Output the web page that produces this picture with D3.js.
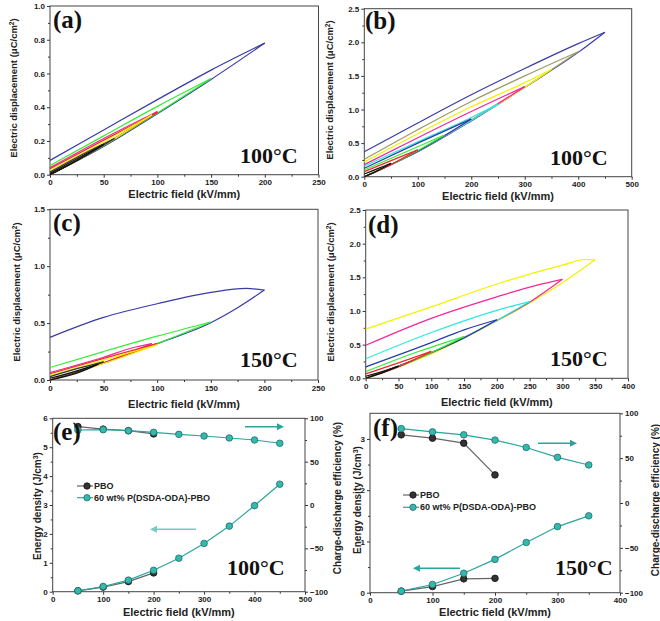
<!DOCTYPE html>
<html><head><meta charset="utf-8">
<script src="https://cdn.jsdelivr.net/npm/d3@7"></script>
<style>body{margin:0;background:#fff}svg{display:block}</style>
</head><body><svg id="c" width="660" height="621"></svg>
<script>
// ---------------- DATA ----------------
// P-E loops: each loop = charge branch + discharge branch, [E (kV/mm), D (uC/cm2)]
const loopsA = [
  {charge:[[0,0],[50,0.168],[100,0.362],[150,0.565],[200,0.78]], discharge:[[0,0.085],[50,0.265],[100,0.445],[150,0.62],[200,0.78]]},
  {charge:[[0,0],[50,0.172],[100,0.366],[150,0.57]], discharge:[[0,0.055],[50,0.23],[100,0.405],[150,0.57]]},
  {charge:[[0,0],[50,0.176],[100,0.375]], discharge:[[0,0.042],[50,0.215],[100,0.375]]},
  {charge:[[0,0],[50,0.176],[100,0.37]], discharge:[[0,0.035],[50,0.205],[100,0.37]]},
  {charge:[[0,0],[50,0.174],[95,0.355]], discharge:[[0,0.025],[50,0.195],[95,0.355]]},
  {charge:[[0,0],[30,0.1],[60,0.215]], discharge:[[0,0.016],[30,0.12],[60,0.215]]},
  {charge:[[0,0],[25,0.085],[50,0.18]], discharge:[[0,0.008],[25,0.095],[50,0.18]]}
];
const loopsB = [
  {charge:[[0,0],[100,0.37],[200,0.83],[300,1.33],[400,1.85],[450,2.15]], discharge:[[0,0.37],[100,0.8],[200,1.22],[300,1.61],[400,1.98],[450,2.15]]},
  {charge:[[0,0],[100,0.38],[200,0.84],[300,1.33],[400,1.86]], discharge:[[0,0.26],[100,0.7],[200,1.12],[300,1.5],[400,1.86]]},
  {charge:[[0,0],[100,0.38],[200,0.84],[300,1.33],[350,1.6]], discharge:[[0,0.22],[100,0.64],[200,1.04],[300,1.4],[350,1.6]]},
  {charge:[[0,0],[100,0.38],[200,0.84],[300,1.34]], discharge:[[0,0.18],[100,0.58],[200,0.97],[300,1.34]]},
  {charge:[[0,0],[100,0.38],[200,0.84],[250,1.08]], discharge:[[0,0.16],[100,0.52],[200,0.88],[250,1.08]]},
  {charge:[[0,0],[100,0.38],[200,0.86]], discharge:[[0,0.125],[100,0.5],[200,0.86]]},
  {charge:[[0,0],[75,0.28],[150,0.62]], discharge:[[0,0.1],[75,0.36],[150,0.62]]},
  {charge:[[0,0],[50,0.18],[100,0.4]], discharge:[[0,0.075],[50,0.24],[100,0.4]]},
  {charge:[[0,0],[25,0.09],[50,0.2]], discharge:[[0,0.04],[25,0.12],[50,0.2]]}
];
const loopsC = [
  {charge:[[0,0],[50,0.147],[100,0.32],[150,0.503],[175,0.635],[200,0.79]], discharge:[[0,0.375],[50,0.55],[100,0.67],[150,0.77],[183,0.805],[200,0.79]]},
  {charge:[[0,0],[50,0.15],[100,0.32],[150,0.51]], discharge:[[0,0.11],[50,0.25],[100,0.385],[150,0.51]]},
  {charge:[[0,0],[50,0.15],[95,0.32]], discharge:[[0,0.065],[50,0.2],[80,0.29],[95,0.32]]},
  {charge:[[0,0],[50,0.15],[100,0.32]], discharge:[[0,0.055],[50,0.19],[100,0.32]]},
  {charge:[[0,0],[50,0.145],[100,0.31]], discharge:[[0,0.04],[50,0.175],[100,0.31]]},
  {charge:[[0,0],[25,0.07],[50,0.16]], discharge:[[0,0.03],[25,0.1],[50,0.16]]},
  {charge:[[0,0],[25,0.06],[45,0.14]], discharge:[[0,0.015],[25,0.08],[45,0.14]]}
];
const loopsD = [
  {charge:[[0,0],[100,0.36],[200,0.85],[250,1.12],[300,1.42],[350,1.76]], discharge:[[0,0.73],[100,1.06],[200,1.4],[300,1.68],[335,1.765],[350,1.76]]},
  {charge:[[0,0],[100,0.38],[200,0.86],[250,1.13],[300,1.47]], discharge:[[0,0.49],[100,0.89],[200,1.21],[260,1.38],[300,1.47]]},
  {charge:[[0,0],[100,0.38],[200,0.86],[250,1.14]], discharge:[[0,0.29],[100,0.68],[200,1.01],[250,1.14]]},
  {charge:[[0,0],[100,0.38],[150,0.6],[200,0.87]], discharge:[[0,0.17],[100,0.53],[150,0.72],[200,0.87]]},
  {charge:[[0,0],[75,0.27],[150,0.62]], discharge:[[0,0.1],[75,0.38],[150,0.62]]},
  {charge:[[0,0],[50,0.17],[100,0.4]], discharge:[[0,0.065],[50,0.23],[100,0.4]]},
  {charge:[[0,0],[25,0.08],[50,0.18]], discharge:[[0,0.03],[25,0.1],[50,0.18]]}
];

// Energy density / efficiency panels
const fieldE_PBO   = [50,100,150,200];
const fieldE_Comp  = [50,100,150,200,250,300,350,400,450];
const energyE_PBO  = [0.03,0.16,0.35,0.65];
const energyE_Comp = [0.03,0.18,0.40,0.74,1.16,1.67,2.27,2.98,3.72];
const effE_PBO     = [90.5,87.5,85.7,82];
const effE_Comp    = [86.5,86.9,85.7,83.8,81.5,79.6,77.3,75,71.2];

const fieldF_PBO   = [50,100,150,200];
const fieldF_Comp  = [50,100,150,200,250,300,350];
const energyF_PBO  = [0.03,0.12,0.27,0.28];
const energyF_Comp = [0.03,0.16,0.38,0.65,0.98,1.29,1.50];
const effF_PBO     = [76,72.3,66.7,31.3];
const effF_Comp    = [82.9,79.3,76,70.1,61.9,50.9,42.4];

const seriesNames = ["PBO","60 wt% P(DSDA-ODA)-PBO"];
const panelLetters = ["(a)","(b)","(c)","(d)","(e)","(f)"];
const tempLabels = ["100°C","100°C","150°C","150°C","100°C","150°C"];

// ---------------- STYLE ----------------
const C = {blue:"#3a3aa6", green:"#33ee33", magenta:"#f0289a", red:"#ee2a2a", yellow:"#f2f200",
           olive:"#9a9a6a", black:"#111", dark:"#333", cyan:"#2ce8df", navy:"#2a3aa8"};
const colorsA = [C.blue,C.green,C.magenta,C.red,C.yellow,C.dark,C.black];
const colorsB = [C.blue,C.olive,C.yellow,C.magenta,C.cyan,C.navy,C.green,C.red,C.black];
const colorsC = [C.blue,C.green,C.magenta,C.red,C.yellow,C.dark,C.black];
const colorsD = [C.yellow,C.magenta,C.cyan,C.navy,C.green,C.red,C.black];
const teal = "#2aa59b", tealDark = "#1f6f69";
const SANS = "'Liberation Sans', Arial, sans-serif";
const SERIF = "'Liberation Serif', 'Times New Roman', serif";

const svg = d3.select("#c");

function frame(cfg){
  const g = svg.append("g");
  const x = d3.scaleLinear().domain(cfg.xDomain).range([cfg.left, cfg.right]);
  const y = d3.scaleLinear().domain(cfg.yDomain).range([cfg.bottom, cfg.top]);
  const styleAxis = sel => {
    sel.select(".domain").remove();
    sel.selectAll("line").attr("stroke","#333");
    sel.selectAll("text").attr("font-family",SANS).attr("font-weight","bold").attr("font-size",8).attr("fill","#222");
  };
  // minor ticks
  g.append("g").attr("transform",`translate(0,${cfg.bottom})`)
    .call(d3.axisBottom(x).tickValues(cfg.xMinor).tickSize(2).tickFormat("")).call(styleAxis);
  g.append("g").attr("transform",`translate(${cfg.left},0)`)
    .call(d3.axisLeft(y).tickValues(cfg.yMinor).tickSize(2).tickFormat("")).call(styleAxis);
  g.append("g").attr("transform",`translate(0,${cfg.bottom})`)
    .call(d3.axisBottom(x).tickValues(cfg.xTicks).tickSize(3).tickPadding(2).tickFormat(d3.format("d"))).call(styleAxis);
  g.append("g").attr("transform",`translate(${cfg.left},0)`)
    .call(d3.axisLeft(y).tickValues(cfg.yTicks).tickSize(3).tickPadding(2).tickFormat(d3.format(cfg.yFmt))).call(styleAxis);
  let y2 = null;
  if (cfg.y2Domain){
    y2 = d3.scaleLinear().domain(cfg.y2Domain).range([cfg.bottom, cfg.top]);
    g.append("g").attr("transform",`translate(${cfg.right},0)`)
      .call(d3.axisRight(y2).tickValues(cfg.y2Minor).tickSize(2).tickFormat("")).call(styleAxis);
    g.append("g").attr("transform",`translate(${cfg.right},0)`)
      .call(d3.axisRight(y2).tickValues(cfg.y2Ticks).tickSize(3).tickPadding(2).tickFormat(d3.format("d"))).call(styleAxis);
  }
  g.append("rect").attr("x",cfg.left).attr("y",cfg.top)
    .attr("width",cfg.right-cfg.left).attr("height",cfg.bottom-cfg.top)
    .attr("fill","none").attr("stroke","#444").attr("stroke-width",1);
  // x title
  g.append("text").attr("x",(cfg.left+cfg.right)/2).attr("y",cfg.bottom+cfg.xTitleDy)
    .attr("text-anchor","middle").attr("font-family",SANS).attr("font-weight","bold").attr("font-size",11).attr("fill","#222")
    .text("Electric field (kV/mm)");
  return {g,x,y,y2};
}

function yTitle(xc, yc, parts){
  const t = svg.append("text").attr("transform",`translate(${xc},${yc}) rotate(-90)`)
    .attr("text-anchor","middle").attr("dy","0.35em").attr("font-family",SANS).attr("font-weight","bold")
    .attr("font-size",9.5).attr("fill","#222");
  t.append("tspan").text(parts[0]);
  t.append("tspan").attr("font-size",6.5).attr("baseline-shift","super").text(parts[1]);
  t.append("tspan").text(parts[2]);
}

function letters(i, x, y, tx, ty){
  svg.append("text").attr("x",x).attr("y",y).attr("font-family",SERIF).attr("font-weight","bold")
    .attr("font-size",25).attr("fill","#111").text(panelLetters[i]);
  svg.append("text").attr("x",tx).attr("y",ty).attr("font-family",SERIF).attr("font-weight","bold")
    .attr("font-size",22).attr("fill","#111").text(tempLabels[i]);
}

function drawLoops(ax, loops, colors){
  const line = d3.line().x(d=>ax.x(d[0])).y(d=>ax.y(d[1])).curve(d3.curveMonotoneX);
  loops.forEach((l,i)=>{
    [l.charge, l.discharge].forEach(br=>{
      ax.g.append("path").attr("d",line(br)).attr("fill","none")
        .attr("stroke",colors[i]).attr("stroke-width",1.2);
    });
  });
}

// ---------------- PANELS a-d ----------------
const dispParts = ["Electric displacement (\u03bcC/cm","2",")"];
const axA = frame({left:50,right:318.5,top:6,bottom:174.7,xDomain:[0,250],yDomain:[0,1.0],
  xTicks:d3.range(0,251,50),xMinor:d3.range(25,250,50),yTicks:d3.range(0,1.01,0.2),yMinor:d3.range(0.1,1,0.2),yFmt:".1f",xTitleDy:23});
drawLoops(axA, loopsA, colorsA);
yTitle(13.5,88,dispParts);
letters(0,53,28,240,163);

const axB = frame({left:364.3,right:631.7,top:8.7,bottom:176.7,xDomain:[0,500],yDomain:[0,2.5],
  xTicks:d3.range(0,501,100),xMinor:d3.range(50,500,100),yTicks:d3.range(0,2.51,0.5),yMinor:d3.range(0.25,2.5,0.5),yFmt:".1f",xTitleDy:23});
drawLoops(axB, loopsB, colorsB);
yTitle(330,90,dispParts);
letters(1,365,29,550,165);

const axC = frame({left:50,right:318,top:209.3,bottom:380,xDomain:[0,250],yDomain:[0,1.5],
  xTicks:d3.range(0,251,50),xMinor:d3.range(25,250,50),yTicks:[0,0.5,1.0,1.5],yMinor:[0.25,0.75,1.25],yFmt:".1f",xTitleDy:28});
drawLoops(axC, loopsC, colorsC);
yTitle(17,292,dispParts);
letters(2,53,231,240,367);

const axD = frame({left:365.7,right:628,top:210,bottom:378.3,xDomain:[0,400],yDomain:[0,2.5],
  xTicks:d3.range(0,401,50),xMinor:d3.range(25,400,50),yTicks:d3.range(0,2.51,0.5),yMinor:d3.range(0.25,2.5,0.5),yFmt:".1f",xTitleDy:28});
drawLoops(axD, loopsD, colorsD);
yTitle(331,292,dispParts);
letters(3,368,233,550,366);

// ---------------- PANELS e-f ----------------
function drawSeries(ax, xs, ys, yscale, color, fill, stroke){
  const pts = xs.map((v,i)=>[v,ys[i]]);
  const line = d3.line().x(d=>ax.x(d[0])).y(d=>yscale(d[1]));
  ax.g.append("path").attr("d",line(pts)).attr("fill","none").attr("stroke",color).attr("stroke-width",1.2);
  ax.g.selectAll(null).data(pts).enter().append("circle")
    .attr("cx",d=>ax.x(d[0])).attr("cy",d=>yscale(d[1])).attr("r",3.3)
    .attr("fill",fill).attr("stroke",stroke).attr("stroke-width",0.8);
}
function arrow(x1,y1,x2,y2,color){
  const g = svg.append("g");
  g.append("line").attr("x1",x1).attr("y1",y1).attr("x2",x2-(x2>x1?5:-5)).attr("y2",y2)
    .attr("stroke",color).attr("stroke-width",1.5);
  const d = x2>x1 ? 1 : -1;
  g.append("path").attr("d",`M${x2},${y2} L${x2-7*d},${y2-3.5} L${x2-7*d},${y2+3.5} Z`).attr("fill",color);
}
function legend(x, y, dy, tx){
  const rows = [{c:"#666",f:"#333",s:"#111"},{c:teal,f:"#35b8ad",s:tealDark}];
  rows.forEach((r,i)=>{
    const yy = y + i*dy;
    svg.append("line").attr("x1",x).attr("x2",x+16).attr("y1",yy).attr("y2",yy).attr("stroke",r.c).attr("stroke-width",1.2);
    svg.append("circle").attr("cx",x+10).attr("cy",yy).attr("r",3.2).attr("fill",r.f).attr("stroke",r.s).attr("stroke-width",0.8);
    svg.append("text").attr("x",tx).attr("y",yy).attr("dy","0.35em").attr("font-family",SANS).attr("font-weight","bold")
      .attr("font-size",9).attr("fill","#222").text(seriesNames[i]);
  });
}

const axE = frame({left:52.7,right:305,top:418.3,bottom:591.7,xDomain:[0,500],yDomain:[0,6],
  xTicks:d3.range(0,501,100),xMinor:d3.range(50,500,100),yTicks:d3.range(0,7,1),yMinor:d3.range(0.5,6,1),yFmt:"d",
  y2Domain:[-100,100],y2Ticks:d3.range(-100,101,50),y2Minor:d3.range(-75,100,50),xTitleDy:24});
drawSeries(axE, fieldE_PBO, energyE_PBO, axE.y, "#666", "#333", "#111");
drawSeries(axE, fieldE_Comp, energyE_Comp, axE.y, teal, "#35b8ad", tealDark);
drawSeries(axE, fieldE_PBO, effE_PBO, axE.y2, "#666", "#333", "#111");
drawSeries(axE, fieldE_Comp, effE_Comp, axE.y2, teal, "#35b8ad", tealDark);
legend(77,486,11.7,94);
arrow(245,426.7,284,426.7,teal);
arrow(196,529.3,150,529.3,"#7cc7c0");
svg.append("text").attr("transform","translate(37,506) rotate(-90)").attr("text-anchor","middle").attr("dy","0.35em")
  .attr("font-family",SANS).attr("font-weight","bold").attr("font-size",10).attr("fill","#222")
  .call(t=>{t.append("tspan").text("Energy density (J/cm");t.append("tspan").attr("font-size",7).attr("baseline-shift","super").text("3");t.append("tspan").text(")");});
svg.append("text").attr("transform","translate(337,498) rotate(-90)").attr("text-anchor","middle").attr("dy","0.35em")
  .attr("font-family",SANS).attr("font-weight","bold").attr("font-size",10).attr("fill","#222").text("Charge-discharge efficiency (%)");
letters(4,53,440,227,575);

const axF = frame({left:370,right:620,top:413.3,bottom:592.7,xDomain:[0,400],yDomain:[0,3.5],
  xTicks:d3.range(0,401,100),xMinor:d3.range(50,400,100),yTicks:[0,1,2,3],yMinor:[0.5,1.5,2.5],yFmt:"d",
  y2Domain:[-100,100],y2Ticks:d3.range(-100,101,50),y2Minor:d3.range(-75,100,50),xTitleDy:23});
drawSeries(axF, fieldF_PBO, energyF_PBO, axF.y, "#666", "#333", "#111");
drawSeries(axF, fieldF_Comp, energyF_Comp, axF.y, teal, "#35b8ad", tealDark);
drawSeries(axF, fieldF_PBO, effF_PBO, axF.y2, "#666", "#333", "#111");
drawSeries(axF, fieldF_Comp, effF_Comp, axF.y2, teal, "#35b8ad", tealDark);
legend(403,495,12.3,420);
arrow(538,443.3,577,443.3,teal);
arrow(460,568.3,413,568.3,teal);
svg.append("text").attr("transform","translate(357,500) rotate(-90)").attr("text-anchor","middle").attr("dy","0.35em")
  .attr("font-family",SANS).attr("font-weight","bold").attr("font-size",10).attr("fill","#222")
  .call(t=>{t.append("tspan").text("Energy density (J/cm");t.append("tspan").attr("font-size",7).attr("baseline-shift","super").text("3");t.append("tspan").text(")");});
svg.append("text").attr("transform","translate(655,500) rotate(-90)").attr("text-anchor","middle").attr("dy","0.35em")
  .attr("font-family",SANS).attr("font-weight","bold").attr("font-size",10).attr("fill","#222").text("Charge-discharge efficiency (%)");
letters(5,373,436,555,575);
</script></body></html>
